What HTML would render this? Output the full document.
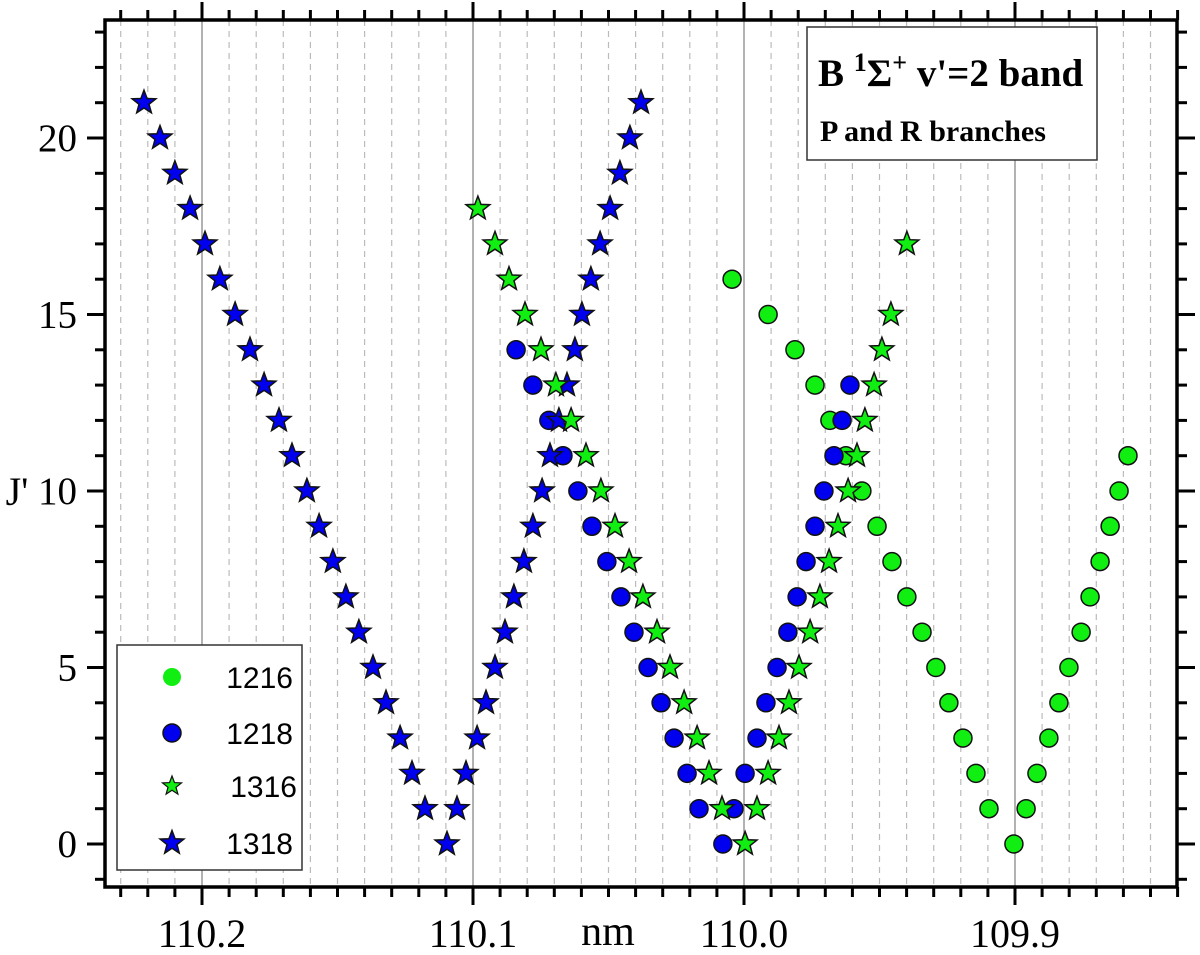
<!DOCTYPE html>
<html><head><meta charset="utf-8"><style>
html,body{margin:0;padding:0;background:#fff;}
svg{display:block;}
</style></head><body>
<svg id="chart" width="1200" height="955" xmlns="http://www.w3.org/2000/svg" font-family="Liberation Serif, serif">
<g id="grid"></g>
<g id="axes"></g>
<g id="marks"></g>
<g id="title-box">
  <rect x="807" y="27" width="290" height="133" fill="#fff" stroke="#333" stroke-width="1.5"/>
  <text x="818" y="86" font-size="39" font-weight="bold">B <tspan font-size="26" dy="-15">1</tspan><tspan dy="15">Σ</tspan><tspan font-size="26" dy="-15">+</tspan><tspan dy="15"> v'=2 band</tspan></text>
  <text x="820" y="141" font-size="30" font-weight="bold">P and R branches</text>
</g>
<g id="legend">
  <rect x="117" y="645" width="185" height="225" fill="#fff" stroke="#333" stroke-width="1.5"/>
</g>
<text x="608" y="945" font-size="42" text-anchor="middle">nm</text>
<text x="17" y="505" font-size="40" text-anchor="middle">J'</text>
</svg>
<script>
const J1318P=[0,1,2,3,4,5,6,7,8,9,10,11,12,13,14,15,16,17,18,19,20,21];
const W1318P=[110.1096,110.1177,110.1225,110.1269,110.1321,110.1369,110.1421,110.1469,110.1517,110.1568,110.1613,110.1668,110.1716,110.1771,110.1823,110.1878,110.1934,110.1989,110.2044,110.2100,110.2155,110.2214];
const J1318R=[1,2,3,4,5,6,7,8,9,10,11,12,13,14,15,16,17,18,19,20,21];
const W1318R=[110.1059,110.1026,110.0985,110.0952,110.0919,110.0882,110.0849,110.0812,110.0779,110.0745,110.0716,110.0683,110.0653,110.0624,110.0598,110.0565,110.0531,110.0494,110.0458,110.0421,110.0380];
const J1218P=[0,1,2,3,4,5,6,7,8,9,10,11,12,13,14];
const W1218P=[110.0078,110.0166,110.0210,110.0258,110.0306,110.0354,110.0406,110.0454,110.0506,110.0561,110.0613,110.0668,110.0720,110.0779,110.0841];
const J1218R=[1,2,3,4,5,6,7,8,9,10,11,12,13];
const W1218R=[110.0037,109.9996,109.9952,109.9919,109.9878,109.9838,109.9804,109.9771,109.9738,109.9705,109.9668,109.9638,109.9609];
const J1316P=[0,1,2,3,4,5,6,7,8,9,10,11,12,13,14,15,16,17,18];
const W1316P=[109.9996,110.0081,110.0129,110.0173,110.0221,110.0273,110.0321,110.0373,110.0424,110.0476,110.0528,110.0583,110.0638,110.0694,110.0749,110.0808,110.0867,110.0919,110.0982];
const J1316R=[1,2,3,4,5,6,7,8,9,10,11,12,13,14,15,17];
const W1316R=[109.9952,109.9911,109.9871,109.9834,109.9797,109.9756,109.9720,109.9686,109.9653,109.9616,109.9583,109.9554,109.9520,109.9491,109.9458,109.9399];
const J1216P=[0,1,2,3,4,5,6,7,8,9,10,11,12,13,14,15,16];
const W1216P=[109.9004,109.9096,109.9144,109.9192,109.9244,109.9292,109.9343,109.9399,109.9454,109.9509,109.9565,109.9624,109.9683,109.9738,109.9812,109.9911,110.0044];
const J1216R=[1,2,3,4,5,6,7,8,9,10,11];
const W1216R=[109.8959,109.8919,109.8875,109.8838,109.8801,109.8756,109.8723,109.8686,109.8649,109.8616,109.8583];
const xTickLabels=["110.2","110.1","110.0","109.9"];
const yTickLabels=["0","5","10","15","20"];
const legendLabels=["1216","1218","1316","1318"];

const NS="http://www.w3.org/2000/svg";
const L=105,R=1177,T=20,B=887;
function X(nm){return 202+(110.2-nm)*2710;}
function Y(j){return 844-j*35.3;}
function mk(tag,attrs,parent){const e=document.createElementNS(NS,tag);for(const k in attrs)e.setAttribute(k,attrs[k]);parent.appendChild(e);return e;}
const grid=document.getElementById('grid'),axes=document.getElementById('axes'),marks=document.getElementById('marks');

for(let i=0;i<=39;i++){
  const nm=110.23-i*0.01; const x=X(nm);
  const major=Math.abs(Math.round(nm*10)-nm*10)<1e-6;
  const g=mk('line',{x1:x,x2:x,y1:T,y2:B,stroke:major?'#999':'#bbb','stroke-width':major?1.5:1.2,'stroke-dasharray':major?'none':'6,5'},grid);
  
  
  const len=major?18:10;
  const tb=mk('line',{x1:x,x2:x,y1:B,y2:B+len,stroke:'#000','stroke-width':3},axes);
  
  
  const tt=mk('line',{x1:x,x2:x,y1:T,y2:T-len,stroke:'#000','stroke-width':3},axes);
  
  
}
xTickLabels.forEach(lbl=>{
  const t=mk('text',{x:X(parseFloat(lbl)),y:947,'font-size':40,'text-anchor':'middle'},axes);
  t.textContent=lbl;
  
  
});
for(let j=-1;j<=23;j++){
  const y=Y(j); const major=j%5===0; const len=major?18:10;
  const a=mk('line',{x1:L,x2:L-len,y1:y,y2:y,stroke:'#000','stroke-width':3},axes);
  
  
  const b=mk('line',{x1:R,x2:R+len,y1:y,y2:y,stroke:'#000','stroke-width':3},axes);
  
  
}
yTickLabels.forEach(lbl=>{
  const t=mk('text',{x:77,y:Y(parseFloat(lbl))+13,'font-size':39,'text-anchor':'end'},axes);
  t.textContent=lbl;
  
  
});
const frame=mk('rect',{x:L,y:T,width:R-L,height:B-T,fill:'none',stroke:'#000','stroke-width':3.5},axes);



function starPts(cx,cy,r){let p=[];for(let i=0;i<10;i++){const a=-Math.PI/2+i*Math.PI/5;const rr=i%2?r*0.42:r;p.push((cx+rr*Math.cos(a)).toFixed(1)+','+(cy+rr*Math.sin(a)).toFixed(1));}return p.join(' ');}
function circle(cx,cy,fill,parent,name){const c=mk('circle',{cx:cx,cy:cy,r:9,fill:fill,stroke:'#111','stroke-width':1.5},parent);return c;}
function star(cx,cy,fill,parent,name){const s=mk('polygon',{points:starPts(cx,cy,12.5),fill:fill,stroke:'#111','stroke-width':1.5,'stroke-linejoin':'miter'},parent);return s;}
const GREEN='#11ee11',BLUE='#0000ee';
W1216P.forEach((w,i)=>circle(X(w),Y(J1216P[i]),GREEN,marks,'point-1216-p'));
W1216R.forEach((w,i)=>circle(X(w),Y(J1216R[i]),GREEN,marks,'point-1216-r'));
W1218P.forEach((w,i)=>circle(X(w),Y(J1218P[i]),BLUE,marks,'point-1218-p'));
W1218R.forEach((w,i)=>circle(X(w),Y(J1218R[i]),BLUE,marks,'point-1218-r'));
W1318P.forEach((w,i)=>star(X(w),Y(J1318P[i]),BLUE,marks,'point-1318-p'));
W1318R.forEach((w,i)=>star(X(w),Y(J1318R[i]),BLUE,marks,'point-1318-r'));
W1316P.forEach((w,i)=>star(X(w),Y(J1316P[i]),GREEN,marks,'point-1316-p'));
W1316R.forEach((w,i)=>star(X(w),Y(J1316R[i]),GREEN,marks,'point-1316-r'));

const leg=document.getElementById('legend');
const ly=[677,733,786,843], lx=[293,293,297,293];
legendLabels.forEach((lbl,i)=>{
  if(i===0){const c=mk('circle',{cx:172,cy:ly[i],r:9,fill:GREEN},leg);}
  else if(i===1)circle(172,ly[i],BLUE,leg,'legend-marker-1218');
  else if(i===2){const s=mk('polygon',{points:starPts(172,ly[i],10),fill:GREEN,stroke:'#111','stroke-width':1.2},leg);}
  else star(172,ly[i],BLUE,leg,'legend-marker-1318');
  const t=mk('text',{x:lx[i],y:ly[i]+11,'font-size':30,'text-anchor':'end','font-family':'Liberation Sans, sans-serif'},leg);
  t.textContent=lbl;
  
  
});
</script>
</body></html>
